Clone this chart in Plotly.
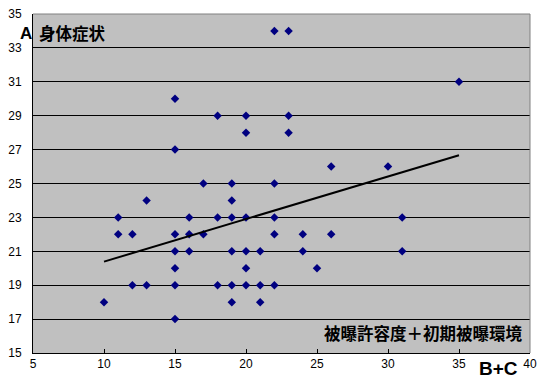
import plotly.graph_objects as go

# data: (B+C, A)
pts_x = [22, 23, 35, 15, 18, 20, 23, 20, 23, 15,
         26, 30, 17, 19, 22, 13, 19, 11, 16, 18,
         19, 20, 22, 31, 11, 12, 15, 16, 17, 22,
         24, 26, 15, 16, 19, 20, 21, 24, 31, 15,
         20, 25, 12, 13, 15, 18, 19, 20, 21, 22,
         10, 19, 21, 15]
pts_y = [34, 34, 31, 30, 29, 29, 29, 28, 28, 27,
         26, 26, 25, 25, 25, 24, 24, 23, 23, 23,
         23, 23, 23, 23, 22, 22, 22, 22, 22, 22,
         22, 22, 21, 21, 21, 21, 21, 21, 21, 20,
         20, 20, 19, 19, 19, 19, 19, 19, 19, 19,
         18, 18, 18, 17]

trend_x = [10, 35]
trend_y = [20.39, 26.67]

x_ticks = [5, 10, 15, 20, 25, 30, 35, 40]
y_ticks = [15, 17, 19, 21, 23, 25, 27, 29, 31, 33, 35]

y_title_letter = "A"
y_title = "身体症状"
x_title = "B+C"
note = "被曝許容度＋初期被曝環境"

fig = go.Figure()
fig.add_trace(go.Scatter(
    x=pts_x, y=pts_y, mode="markers",
    marker=dict(symbol="diamond", size=6.5, color="#000080"),
    showlegend=False, hoverinfo="skip"))
fig.add_trace(go.Scatter(
    x=trend_x, y=trend_y, mode="lines",
    line=dict(color="black", width=2),
    showlegend=False, hoverinfo="skip"))

tickfont = dict(family="Liberation Sans, Arial", size=12, color="black")

fig.update_layout(
    width=541, height=384,
    margin=dict(l=33, r=11, t=14, b=31, autoexpand=False),
    paper_bgcolor="white", plot_bgcolor="#C0C0C0",
    xaxis=dict(range=[5, 40], tickvals=x_ticks, showgrid=False, zeroline=False,
               showline=True, linecolor="black", linewidth=1,
               ticks="inside", ticklen=4, tickcolor="black",
               tickfont=tickfont, automargin=False),
    yaxis=dict(range=[15, 35], tickvals=y_ticks, showgrid=True,
               gridcolor="#000000", gridwidth=1, zeroline=False,
               showline=True, linecolor="black", linewidth=1,
               ticks="outside", ticklen=8, tickcolor="rgba(0,0,0,0)",
               tickfont=tickfont, automargin=False),
    shapes=[dict(type="path", xref="paper", yref="paper",
                 path="M 0,1 L 1,1 L 1,0", line=dict(color="#808080", width=1),
                 layer="above")],
    annotations=[
        dict(text="<b>" + y_title_letter + "</b>", xref="paper", yref="paper",
             x=-0.03, y=0.943, xanchor="left", yanchor="middle", showarrow=False,
             font=dict(family="Liberation Sans, Arial", size=17, color="black")),
        dict(text="<b>" + y_title + "</b>", xref="paper", yref="paper",
             x=0.008, y=0.943, xanchor="left", yanchor="middle", showarrow=False,
             font=dict(family="Noto Sans CJK JP", size=16.5, color="black")),
        dict(text="<b>" + note + "</b>", xref="paper", yref="paper",
             x=0.99, y=0.06, xanchor="right", yanchor="middle", showarrow=False,
             font=dict(family="Noto Sans CJK JP", size=16.5, color="black")),
        dict(text="<b>" + x_title + "</b>", xref="paper", yref="paper",
             x=0.98, y=-0.045, xanchor="right", yanchor="middle", showarrow=False,
             font=dict(family="Liberation Sans, Arial", size=19, color="black")),
    ],
)

fig.write_html("out.html", config={"displayModeBar": False},
               post_script="document.body.style.margin='0';")
